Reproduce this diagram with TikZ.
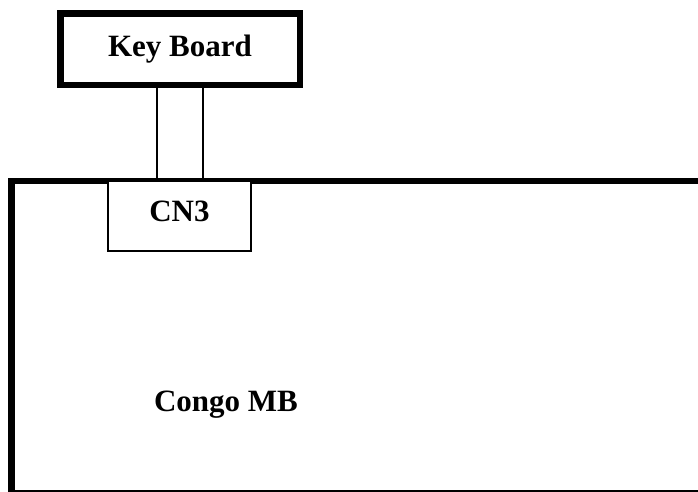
\documentclass[tikz,border=0pt]{standalone}
\usepackage{fontspec}
\setmainfont{Liberation Serif}
\begin{document}
\begin{tikzpicture}[x=1pt,y=-1pt,
	heavybox/.style={draw,line width=6.5pt,fill=white,inner sep=0pt},
	lightbox/.style={draw,line width=2pt,fill=white,inner sep=0pt},
	lbl/.style={font=\fontsize{31}{36}\selectfont\bfseries}]
	\clip (0,0) rectangle (698,491);
	\fill[white] (0,0) rectangle (698,491);
	
	\node[lightbox,minimum width=46pt,minimum height=97pt] (cable) at (180,132.5) {};
	\node[heavybox,lbl,minimum width=239.5pt,minimum height=71.5pt] (kb) at (180,49) {Key Board};
	
	\node[heavybox,fill=none,minimum width=708.5pt,minimum height=312pt] (board) at (365.75,337) {};
	\node[lightbox,minimum width=143pt,minimum height=70pt] (cn3) at (179.5,216) {};
	
	\node[lbl] (cn3name) at (179.5,211) {CN3};
	\node[lbl] (boardname) at (226,405) {Congo MB};
\end{tikzpicture}
\end{document}
